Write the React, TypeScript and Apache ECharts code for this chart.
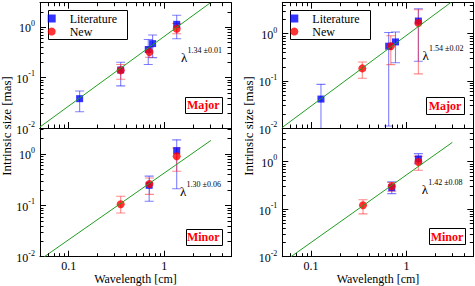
import React, { useEffect, useRef } from 'react';
import * as echarts from 'echarts';

// rows: [wavelength (cm), intrinsic size (mas), lower error, upper error]
const majorLeftLiterature = [
  [0.13, 0.038, 0.021, 0.054],
  [0.35, 0.14, 0.068, 0.2],
  [0.68, 0.355, 0.18, 0.56],
  [0.755, 0.466, 0.246, 0.69],
  [1.35, 1.12, 0.58, 1.69],
];
const majorLeftNew = [
  [0.35, 0.138, 0.092, 0.18],
  [0.7, 0.318, 0.25, 0.4],
  [1.35, 0.92, 0.73, 1.16],
];
const minorLeftLiterature = [
  [0.695, 0.245, 0.12, 0.37],
  [1.35, 1.16, 0.21, 1.88],
];
const minorLeftNew = [
  [0.35, 0.105, 0.071, 0.15],
  [0.7, 0.26, 0.163, 0.34],
  [1.35, 0.9, 0.46, 1.31],
];
const majorRightLiterature = [
  [0.127, 0.041, 0.005, 0.084],
  [0.65, 0.54, 0.011, 1.05],
  [0.766, 0.665, 0.24, 1.08],
  [1.33, 1.84, 0.26, 3.36],
];
const majorRightNew = [
  [0.344, 0.183, 0.113, 0.25],
  [0.684, 0.54, 0.22, 0.9],
  [1.33, 1.67, 0.14, 3.2],
];
const minorRightLiterature = [
  [0.7, 0.28, 0.21, 0.37],
  [1.33, 1.12, 0.89, 1.45],
];
const minorRightNew = [
  [0.35, 0.12, 0.079, 0.156],
  [0.7, 0.3, 0.235, 0.36],
  [1.33, 0.97, 0.65, 1.27],
];

// power-law fit lines (end points)
const majorLeftFit = [[0.05, 0.0105], [3.05, 3.0]];
const minorLeftFit = [[0.0555, 0.01], [3.08, 1.83]];
const majorRightFit = [[0.05, 0.0103], [2.93, 4.6]];
const minorRightFit = [[0.0616, 0.01], [3.02, 2.5]];

const fitExponents = ['1.34 ±0.01', '1.30 ±0.06', '1.54 ±0.02', '1.42 ±0.08'];
const panelTags = ['Major', 'Minor', 'Major', 'Minor'];
const seriesNames = ['Literature', 'New'];
const xTitle = 'Wavelength [cm]';
const yTitle = 'Intrinsic size [mas]';

const XMIN = 0.05;
const XMAX = 5;
const YMIN = 0.01;

const FONT = 'Liberation Serif';

const panels = [
  { grid: { left: 40, top: 2.7, width: 191, height: 125.3 }, ymax: 3, lit: majorLeftLiterature, nw: majorLeftNew, fit: majorLeftFit, xLabels: false, topTicks: true, lam: [181, 57.5], tagRect: [185, 96.7, 36.7, 16] },
  { grid: { left: 40, top: 128, width: 191, height: 128.7 }, ymax: 3.2, lit: minorLeftLiterature, nw: minorLeftNew, fit: minorLeftFit, xLabels: true, topTicks: false, lam: [180, 191], tagRect: [185.5, 229, 35.5, 15.5] },
  { grid: { left: 282.3, top: 2.7, width: 191, height: 125.3 }, ymax: 4.5, lit: majorRightLiterature, nw: majorRightNew, fit: majorRightFit, xLabels: false, topTicks: true, lam: [422.5, 55], tagRect: [426, 97, 38, 17] },
  { grid: { left: 282.3, top: 128, width: 191, height: 128.7 }, ymax: 5, lit: minorRightLiterature, nw: minorRightNew, fit: minorRightFit, xLabels: true, topTicks: false, lam: [421.7, 189], tagRect: [429, 228, 36, 16] },
];

function minorTickValues(lo: number, hi: number): number[] {
  const out: number[] = [];
  for (let e = Math.floor(Math.log10(lo)) - 1; e <= Math.ceil(Math.log10(hi)); e++) {
    for (let k = 2; k <= 9; k++) {
      const v = k * Math.pow(10, e);
      if (v > lo * 1.0001 && v < hi * 0.9999) out.push(v);
    }
  }
  return out;
}

function isDecade(v: number) {
  const l = Math.log10(v);
  return Math.abs(l - Math.round(l)) < 1e-6;
}

export default function App() {
  const ref = useRef<HTMLDivElement>(null);

  useEffect(() => {
    if (!ref.current) return;
    const chart = echarts.init(ref.current, undefined, { renderer: 'svg' });

    const axisLine = { show: true, lineStyle: { color: '#000', width: 1 } };
    const xAxis: any[] = [];
    const yAxis: any[] = [];
    const series: any[] = [];
    const graphic: any[] = [];

    panels.forEach((p, i) => {
      xAxis.push({
        type: 'log', logBase: 10, gridIndex: i, min: XMIN, max: XMAX, position: 'bottom',
        axisLine, splitLine: { show: false },
        axisTick: { show: true, inside: true, length: 6, lineStyle: { color: '#000', width: 1 } },
        axisLabel: {
          show: p.xLabels, margin: 3, color: '#000', fontFamily: FONT, fontSize: 12,
          formatter: (v: number) => (isDecade(v) ? (v >= 1 ? String(Math.round(v)) : String(+v.toPrecision(1))) : ''),
        },
      });
      xAxis.push({
        type: 'log', logBase: 10, gridIndex: i, min: XMIN, max: XMAX, position: 'top',
        axisLine, splitLine: { show: false },
        axisTick: { show: p.topTicks, inside: true, length: 6, lineStyle: { color: '#000', width: 1 } },
        axisLabel: { show: false },
      });
      yAxis.push({
        type: 'log', logBase: 10, gridIndex: i, min: YMIN, max: p.ymax, position: 'left',
        axisLine, splitLine: { show: false },
        axisTick: { show: true, inside: true, length: 6, lineStyle: { color: '#000', width: 1 } },
        axisLabel: {
          show: true, margin: 5, color: '#000', fontFamily: FONT,
          formatter: (v: number) => (isDecade(v) ? `{b|10}{s|${Math.round(Math.log10(v))}}` : ''),
          rich: {
            b: { fontFamily: FONT, fontSize: 12, color: '#000', lineHeight: 15, verticalAlign: 'bottom' },
            s: { fontFamily: FONT, fontSize: 8, color: '#000', lineHeight: 8, verticalAlign: 'top' },
          },
        },
      });
      yAxis.push({
        type: 'log', logBase: 10, gridIndex: i, min: YMIN, max: p.ymax, position: 'right',
        axisLine, splitLine: { show: false },
        axisTick: { show: true, inside: true, length: 6, lineStyle: { color: '#000', width: 1 } },
        axisLabel: { show: false },
      });

      const xi = 2 * i;
      const yi = 2 * i;
      const xMinor = minorTickValues(XMIN, XMAX);
      const yMinor = minorTickValues(YMIN, p.ymax);

      series.push({
        type: 'custom', xAxisIndex: xi, yAxisIndex: yi, silent: true, z: 5,
        data: [[1, 0.1]],
        renderItem: (_params: any, api: any) => {
          const bl = api.coord([XMIN, YMIN]);
          const tr = api.coord([XMAX, p.ymax]);
          const st = { stroke: '#000', lineWidth: 1 };
          const children: any[] = [];
          xMinor.forEach((v) => {
            const px = Math.round(api.coord([v, YMIN])[0]) + 0.5;
            children.push({ type: 'line', shape: { x1: px, y1: bl[1], x2: px, y2: bl[1] - 3.5 }, style: st });
            if (p.topTicks) children.push({ type: 'line', shape: { x1: px, y1: tr[1], x2: px, y2: tr[1] + 3.5 }, style: st });
          });
          yMinor.forEach((v) => {
            const py = Math.round(api.coord([XMIN, v])[1]) + 0.5;
            children.push({ type: 'line', shape: { x1: bl[0], y1: py, x2: bl[0] + 3.5, y2: py }, style: st });
            children.push({ type: 'line', shape: { x1: tr[0], y1: py, x2: tr[0] - 3.5, y2: py }, style: st });
          });
          return { type: 'group', children };
        },
      });

      const errSeries = (rows: number[][], color: string) => ({
        type: 'custom', xAxisIndex: xi, yAxisIndex: yi, silent: true, z: 2, clip: true,
        data: rows,
        encode: { x: 0, y: 1 },
        renderItem: (_params: any, api: any) => {
          const x = api.value(0);
          const lo = api.coord([x, api.value(2)]);
          const hi = api.coord([x, api.value(3)]);
          const hw = 4.5;
          const st = { stroke: color, lineWidth: 1.1 };
          return {
            type: 'group',
            children: [
              { type: 'line', shape: { x1: lo[0], y1: lo[1], x2: hi[0], y2: hi[1] }, style: st },
              { type: 'line', shape: { x1: lo[0] - hw, y1: lo[1], x2: lo[0] + hw, y2: lo[1] }, style: st },
              { type: 'line', shape: { x1: hi[0] - hw, y1: hi[1], x2: hi[0] + hw, y2: hi[1] }, style: st },
            ],
          };
        },
      });
      series.push(errSeries(p.lit, 'rgba(40,40,255,0.6)'));
      series.push(errSeries(p.nw, 'rgba(255,40,40,0.55)'));

      series.push({
        name: seriesNames[0], type: 'scatter', xAxisIndex: xi, yAxisIndex: yi, z: 3,
        symbol: 'rect', symbolSize: 7, itemStyle: { color: '#0000ff' },
        data: p.lit.map((r) => [r[0], r[1]]),
      });
      series.push({
        name: seriesNames[1], type: 'scatter', xAxisIndex: xi, yAxisIndex: yi, z: 3,
        symbol: 'circle', symbolSize: 8, itemStyle: { color: '#ff0000' },
        data: p.nw.map((r) => [r[0], r[1]]),
      });
      series.push({
        type: 'line', xAxisIndex: xi, yAxisIndex: yi, z: 4, silent: true,
        symbol: 'none', lineStyle: { color: '#1f9e1f', width: 1 },
        data: p.fit,
      });

      // lambda annotation
      graphic.push({
        type: 'text', x: p.lam[0], y: p.lam[1], z: 10, silent: true,
        style: { text: 'λ', fontFamily: FONT, fontSize: 13, fill: '#000', textAlign: 'left', textVerticalAlign: 'middle' },
      });
      graphic.push({
        type: 'text', x: p.lam[0] + 6.5, y: p.lam[1] - 7, z: 10, silent: true,
        style: { text: fitExponents[i], fontFamily: FONT, fontSize: 8, fill: '#000', textAlign: 'left', textVerticalAlign: 'middle' },
      });
      // tag box
      const [tx, ty, tw, th] = p.tagRect;
      graphic.push({
        type: 'rect', z: 10, silent: true,
        shape: { x: Math.round(tx) + 0.5, y: Math.round(ty) + 0.5, width: Math.round(tw), height: Math.round(th) },
        style: { fill: '#fff', stroke: '#000', lineWidth: 1 },
      });
      graphic.push({
        type: 'text', x: tx + tw / 2, y: ty + th / 2 + 0.5, z: 11, silent: true,
        style: { text: panelTags[i], fontFamily: FONT, fontSize: 12, fontWeight: 'bold', fill: '#ff0000', textAlign: 'center', textVerticalAlign: 'middle' },
      });
    });

    // legend boxes
    const legendBoxes = [[48.5, 10.5, 79, 29], [290.5, 10.5, 80, 29]];
    legendBoxes.forEach((b) => {
      graphic.push({
        type: 'rect', z: 3, silent: true,
        shape: { x: b[0], y: b[1], width: b[2], height: b[3] },
        style: { fill: '#fff', stroke: '#000', lineWidth: 1 },
      });
    });

    // axis titles
    [135.5, 378].forEach((cx) => {
      graphic.push({
        type: 'text', x: cx, y: 279.3, silent: true,
        style: { text: xTitle, fontFamily: FONT, fontSize: 12, fill: '#000', textAlign: 'center', textVerticalAlign: 'middle' },
      });
    });
    [6.5, 248.5].forEach((cx) => {
      graphic.push({
        type: 'text', x: cx, y: 126, rotation: Math.PI / 2, silent: true,
        style: { text: yTitle, fontFamily: FONT, fontSize: 13, fill: '#000', textAlign: 'center', textVerticalAlign: 'middle' },
      });
    });

    const legendBase = {
      orient: 'vertical', top: 12.5, padding: 0, itemGap: 1, itemWidth: 26, itemHeight: 8,
      selectedMode: false, z: 6,
      textStyle: { fontFamily: FONT, fontSize: 12, color: '#000', lineHeight: 12 },
      data: [
        { name: seriesNames[0], icon: 'path://M0 0H1V1H0Z' },
        { name: seriesNames[1], icon: 'circle' },
      ],
    };

    chart.setOption({
      animation: false,
      backgroundColor: '#fff',
      textStyle: { fontFamily: FONT },
      grid: panels.map((p) => ({ ...p.grid, containLabel: false, outerBoundsMode: 'none' })),
      xAxis,
      yAxis,
      series,
      legend: [
        { ...legendBase, left: 47.7 },
        { ...legendBase, left: 290.3 },
      ],
      graphic,
    });

    return () => chart.dispose();
  }, []);

  return <div ref={ref} style={{ position: 'fixed', left: 0, top: 0, width: 475, height: 286 }} />;
}
